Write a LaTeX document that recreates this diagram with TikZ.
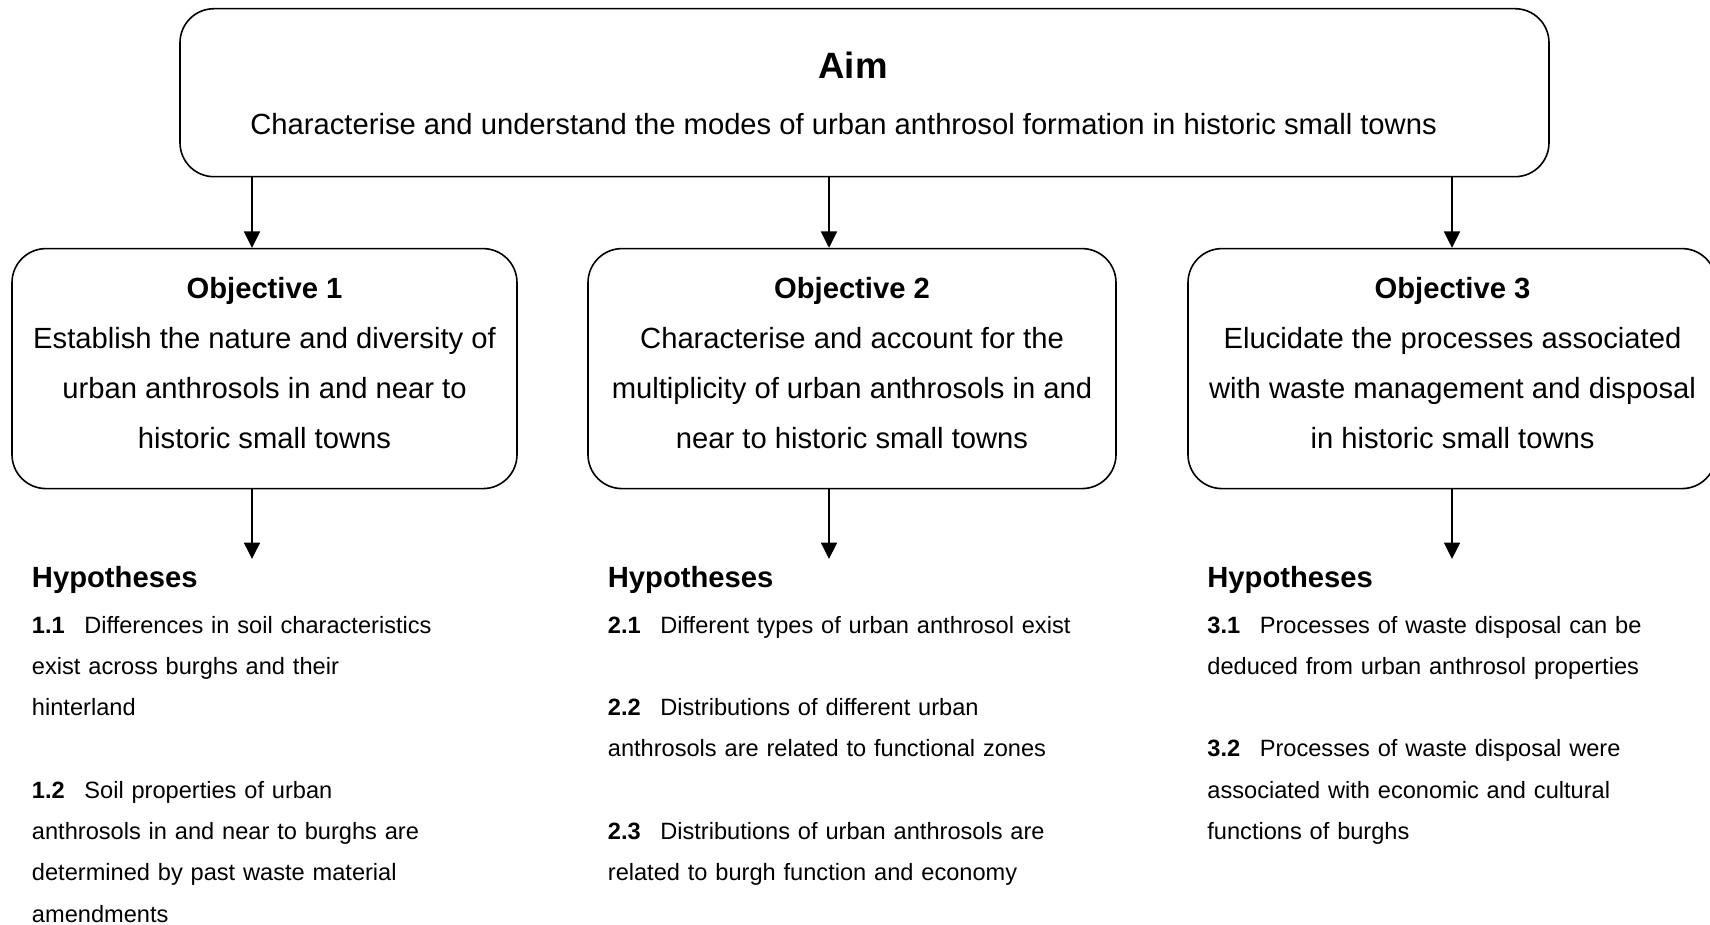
\documentclass[tikz,border=0pt]{standalone}
\usepackage{fontspec}
\setmainfont{Liberation Sans}
\usetikzlibrary{arrows.meta}

\begin{document}
\begin{tikzpicture}[x=0.5pt,y=-0.5pt,
  box/.style={draw, line width=0.8pt, rounded corners=17pt, inner sep=0pt},
  objbox/.style={box, minimum height=120pt},
  objtext/.style={anchor=center, inner sep=0pt, align=center,
    font=\fontsize{14.6}{25}\selectfont},
  arr/.style={line width=0.8pt, -{Triangle[width=8pt,length=8.2pt]}},
  aimtitle/.style={anchor=base, inner sep=0pt, font=\fontsize{18.3}{22}\selectfont\bfseries},
  aimtext/.style={anchor=base, inner sep=0pt, font=\fontsize{14.6}{18}\selectfont},
  hyphead/.style={anchor=base west, inner sep=0pt, font=\fontsize{14.6}{17}\selectfont\bfseries},
  hyp/.style={anchor=base west, inner sep=0pt, align=left, text width=280pt,
    font=\fontsize{11.8}{20.65}\selectfont},
]
\newcommand{\hnum}[1]{\makebox[26.2pt][l]{\textbf{#1}}}
\useasboundingbox (0,0) rectangle (1710,925);

% aim
\node[box, minimum width=684.5pt, minimum height=84pt] (aim) at (864.5,92.7) {};
\node[aimtitle] (aimt) at (853,78.5) {Aim};
\node[aimtext] (aimx) at (843.6,134.8) {Characterise and understand the modes of urban anthrosol formation in historic small towns};

% objective boxes (the third runs past the right edge)
\node[objbox, minimum width=252.5pt] (obj1) at (264.5,368.6) {};
\node[objbox, minimum width=264pt] (obj2) at (852,368.6) {};
\node[objbox, minimum width=264pt] (obj3) at (1452,368.6) {};

% objective texts
\node[objtext] (obj1t) at (264.5,363)
  {\textbf{Objective 1}\\Establish the nature and diversity of\\urban anthrosols in and near to\\historic small towns};
\node[objtext] (obj2t) at (852,363)
  {\textbf{Objective 2}\\Characterise and account for the\\multiplicity of urban anthrosols in and\\near to historic small towns};
\node[objtext] (obj3t) at (1452.5,363)
  {\textbf{Objective 3}\\Elucidate the processes associated\\with waste management and disposal\\in historic small towns};

% arrow columns
\coordinate (c1) at (252,0);
\coordinate (c2) at (829,0);
\coordinate (c3) at (1452,0);
\coordinate (e1) at (252,559);
\coordinate (e2) at (829,559);
\coordinate (e3) at (1452,559);

\draw[arr] (aim.south -| c1) -- (obj1.north -| c1);
\draw[arr] (aim.south -| c2) -- (obj2.north -| c2);
\draw[arr] (aim.south -| c3) -- (obj3.north -| c3);
\draw[arr] (obj1.south -| c1) -- (e1);
\draw[arr] (obj2.south -| c2) -- (e2);
\draw[arr] (obj3.south -| c3) -- (e3);

% hypotheses
\node[hyphead] (hh1) at (31.6,588) {Hypotheses};
\node[hyphead] (hh2) at (607.5,588) {Hypotheses};
\node[hyphead] (hh3) at (1207,588) {Hypotheses};

\node[hyp] (h11) at (31.6,633) {\hnum{1.1}Differences in soil characteristics\\exist across burghs and their\\hinterland};
\node[hyp] (h12) at (31.6,798.2) {\hnum{1.2}Soil properties of urban\\anthrosols in and near to burghs are\\determined by past waste material\\amendments};

\node[hyp] (h21) at (607.5,633) {\hnum{2.1}Different types of urban anthrosol exist};
\node[hyp] (h22) at (607.5,715.6) {\hnum{2.2}Distributions of different urban\\anthrosols are related to functional zones};
\node[hyp] (h23) at (607.5,839.5) {\hnum{2.3}Distributions of urban anthrosols are\\related to burgh function and economy};

\node[hyp] (h31) at (1207,633) {\hnum{3.1}Processes of waste disposal can be\\deduced from urban anthrosol properties};
\node[hyp] (h32) at (1207,756.9) {\hnum{3.2}Processes of waste disposal were\\associated with economic and cultural\\functions of burghs};
\end{tikzpicture}
\end{document}
